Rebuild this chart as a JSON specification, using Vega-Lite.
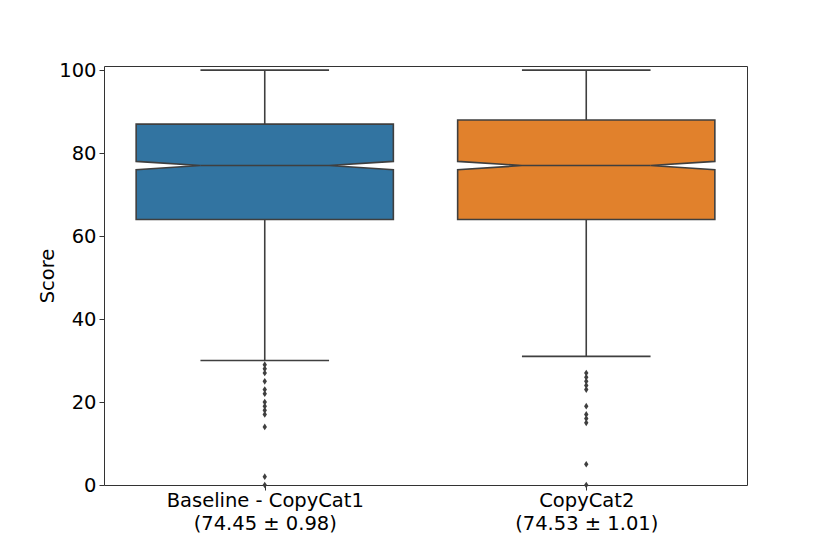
{
  "$schema": "https://vega.github.io/schema/vega-lite/v6.json",
  "autosize": "none",
  "width": 643,
  "height": 419,
  "padding": {"left": 104, "top": 66, "right": 83, "bottom": 69},
  "background": "white",
  "config": {
    "view": {"stroke": "#333333", "strokeWidth": 1},
    "font": "DejaVu Sans",
    "axis": {
      "domain": false, "grid": false, "ticks": true, "tickColor": "#333333", "tickSize": 5, "tickWidth": 1,
      "labelFont": "DejaVu Sans", "labelFontSize": 19.5, "labelColor": "#000000", "labelLimit": 0,
      "titleFont": "DejaVu Sans", "titleFontSize": 19.5, "titleFontWeight": "normal", "titleColor": "#000000"
    }
  },
  "datasets": {
    "boxes": [
      {"group": "Baseline - CopyCat1", "idx": 0, "whiskLo": 30, "q1": 64, "notchLo": 76, "median": 77, "notchHi": 78, "q3": 87, "whiskHi": 100},
      {"group": "CopyCat2", "idx": 1, "whiskLo": 31, "q1": 64, "notchLo": 76, "median": 77, "notchHi": 78, "q3": 88, "whiskHi": 100}
    ],
    "outliers": [
      {"group": "Baseline - CopyCat1", "idx": 0, "score": 29},
      {"group": "Baseline - CopyCat1", "idx": 0, "score": 28},
      {"group": "Baseline - CopyCat1", "idx": 0, "score": 27},
      {"group": "Baseline - CopyCat1", "idx": 0, "score": 25},
      {"group": "Baseline - CopyCat1", "idx": 0, "score": 23},
      {"group": "Baseline - CopyCat1", "idx": 0, "score": 22},
      {"group": "Baseline - CopyCat1", "idx": 0, "score": 20},
      {"group": "Baseline - CopyCat1", "idx": 0, "score": 19},
      {"group": "Baseline - CopyCat1", "idx": 0, "score": 18},
      {"group": "Baseline - CopyCat1", "idx": 0, "score": 17},
      {"group": "Baseline - CopyCat1", "idx": 0, "score": 14},
      {"group": "Baseline - CopyCat1", "idx": 0, "score": 2},
      {"group": "Baseline - CopyCat1", "idx": 0, "score": 0},
      {"group": "CopyCat2", "idx": 1, "score": 27},
      {"group": "CopyCat2", "idx": 1, "score": 26},
      {"group": "CopyCat2", "idx": 1, "score": 25},
      {"group": "CopyCat2", "idx": 1, "score": 24},
      {"group": "CopyCat2", "idx": 1, "score": 23},
      {"group": "CopyCat2", "idx": 1, "score": 19},
      {"group": "CopyCat2", "idx": 1, "score": 17},
      {"group": "CopyCat2", "idx": 1, "score": 16},
      {"group": "CopyCat2", "idx": 1, "score": 15},
      {"group": "CopyCat2", "idx": 1, "score": 5},
      {"group": "CopyCat2", "idx": 1, "score": 0}
    ]
  },
  "layer": [
    {
      "data": {"name": "boxes"},
      "mark": {"type": "rule", "color": "#3f3f3f", "strokeWidth": 1.6},
      "encoding": {
        "x": {"field": "idx", "type": "quantitative",
          "scale": {"domain": [-0.5, 1.5], "nice": false, "zero": false},
          "axis": {"title": null, "values": [0, 1], "labelLineHeight": 23, "labelPadding": 1,
            "labelExpr": "datum.value === 0 ? ['Baseline - CopyCat1', '(74.45 ± 0.98)'] : ['CopyCat2', '(74.53 ± 1.01)']"}},
        "y": {"field": "whiskLo", "type": "quantitative",
          "scale": {"domain": [0, 101], "nice": false, "zero": true},
          "axis": {"title": "Score", "values": [0, 20, 40, 60, 80, 100], "labelPadding": 3, "titlePadding": 1}},
        "y2": {"field": "whiskHi"}
      }
    },
    {
      "data": {"name": "boxes"},
      "transform": [
        {"fold": ["whiskLo", "whiskHi"], "as": ["end", "val"]},
        {"calculate": "datum.idx - 0.2", "as": "capL"},
        {"calculate": "datum.idx + 0.2", "as": "capR"}
      ],
      "mark": {"type": "rule", "color": "#3f3f3f", "strokeWidth": 1.6},
      "encoding": {
        "x": {"field": "capL", "type": "quantitative"},
        "x2": {"field": "capR"},
        "y": {"field": "val", "type": "quantitative"}
      }
    },
    {
      "data": {"name": "boxes"},
      "transform": [
        {"fold": ["q1", "notchLo", "median", "notchHi", "q3"], "as": ["key", "val"]},
        {"calculate": "datum.key === 'median' ? 0.2 : 0", "as": "inset"},
        {"calculate": "datum.idx - 0.4 + datum.inset", "as": "left"},
        {"calculate": "datum.idx + 0.4 - datum.inset", "as": "right"}
      ],
      "mark": {"type": "area", "orient": "horizontal", "interpolate": "linear", "stroke": "#3f3f3f", "strokeWidth": 1.6, "opacity": 1, "fillOpacity": 1},
      "encoding": {
        "y": {"field": "val", "type": "quantitative", "sort": null},
        "x": {"field": "left", "type": "quantitative"},
        "x2": {"field": "right"},
        "color": {"field": "group", "type": "nominal",
          "scale": {"domain": ["Baseline - CopyCat1", "CopyCat2"], "range": ["#3274a1", "#e1812c"]},
          "legend": null}
      }
    },
    {
      "data": {"name": "boxes"},
      "transform": [
        {"calculate": "datum.idx - 0.2", "as": "capL"},
        {"calculate": "datum.idx + 0.2", "as": "capR"}
      ],
      "mark": {"type": "rule", "color": "#3f3f3f", "strokeWidth": 1.6},
      "encoding": {
        "x": {"field": "capL", "type": "quantitative"},
        "x2": {"field": "capR"},
        "y": {"field": "median", "type": "quantitative"}
      }
    },
    {
      "data": {"name": "outliers"},
      "mark": {"type": "point", "shape": "M0,-1L0.65,0L0,1L-0.65,0Z", "filled": true, "color": "#3f3f3f", "size": 45, "opacity": 1},
      "encoding": {
        "x": {"field": "idx", "type": "quantitative"},
        "y": {"field": "score", "type": "quantitative"}
      }
    }
  ]
}
